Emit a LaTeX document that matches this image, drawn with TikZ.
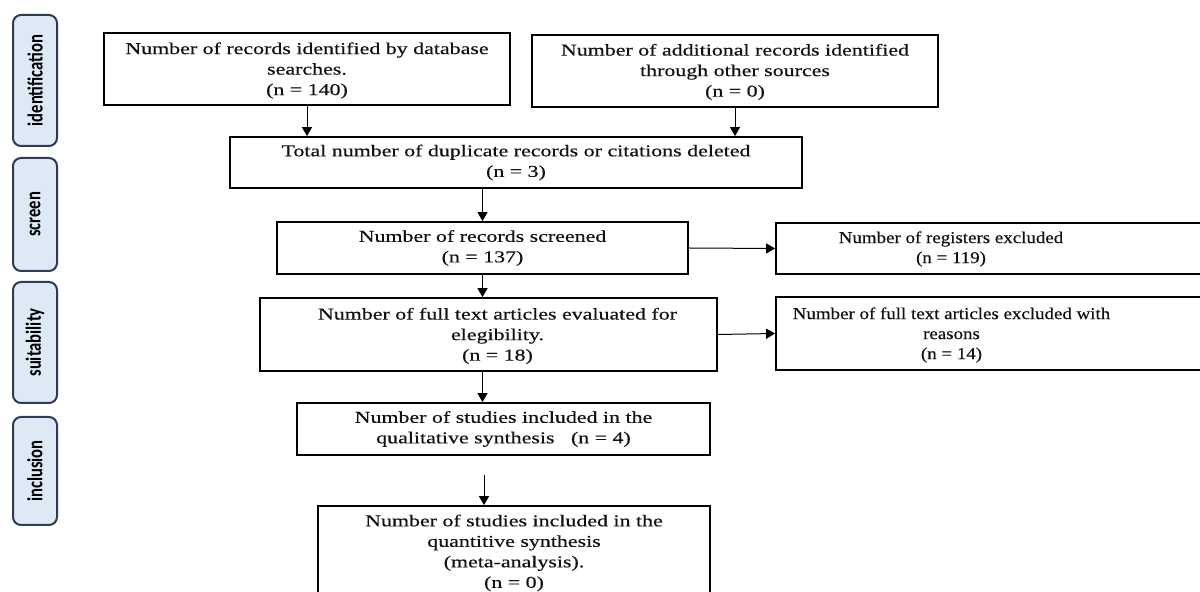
\documentclass[tikz,border=0pt]{standalone}
\usepackage{fontspec}
\usepackage{graphicx}
\setmainfont{Liberation Serif}[FakeStretch=1.32,FakeBold=0.4]
\newfontfamily\narrowserif{Liberation Serif}[FakeStretch=1.14,FakeBold=0.4]
\newfontfamily\tabfont{Carlito}
\usetikzlibrary{arrows.meta}
\definecolor{tabfill}{HTML}{DDEAF6}
\definecolor{tabline}{HTML}{2F3B55}
\definecolor{txt}{HTML}{111111}
\tikzset{
  box/.style={draw=black, line width=0.9pt, inner sep=0pt, align=center, text=txt,
    font=\fontsize{8.3}{10.25}\selectfont},
  boxtext/.style={inner sep=0pt, align=center, text=txt, font=\fontsize{8.3}{10.25}\selectfont},
  sidetext/.style={inner sep=0pt, align=center, text=txt, font=\narrowserif\fontsize{8.3}{10}\selectfont},
  tab/.style={draw=tabline, fill=tabfill, line width=1pt, rounded corners=4pt, rotate=90,
    inner sep=0pt, text=black, font=\tabfont\bfseries\fontsize{8.3}{9}\selectfont},
  arr/.style={draw=black, line width=0.5pt, -{Triangle[length=4.5pt,width=5pt]}}
}
\begin{document}
\begin{tikzpicture}[x=0.5pt,y=-0.5pt]
\useasboundingbox (0,0) rectangle (1200,592);
\clip (0,0) rectangle (1200,592);
\fill[white] (0,0) rectangle (1200,592);
% phase tabs
\node[tab, minimum width=65.5pt, minimum height=22pt] (tid) at (35,80.5) {\scalebox{1}[1.3]{identification}};
\node[tab, minimum width=56.5pt, minimum height=22pt] (tsc) at (35,214.5) {\scalebox{1}[1.3]{screen}};
\node[tab, minimum width=60.5pt, minimum height=22pt] (tsu) at (35,342.5) {\scalebox{1}[1.3]{suitability}};
\node[tab, minimum width=54pt, minimum height=22pt] (tin) at (35,471) {\scalebox{1}[1.3]{inclusion}};
% boxes
\node[box, minimum width=203pt, minimum height=36pt] (b1) at (307,69) {};
\node[boxtext] (b1t) at (307,70.5) {Number of records identified by database\\searches.\\(n = 140)};
\node[box, minimum width=203pt, minimum height=36pt] (b2) at (735,71) {};
\node[boxtext] (b2t) at (735,72) {Number of additional records identified\\through other sources\\(n = 0)};
\node[box, minimum width=286pt, minimum height=25.5pt] (tot) at (516,162.5)
  {Total number of duplicate records or citations deleted\\(n = 3)};
\node[box, minimum width=205.5pt, minimum height=26pt] (scr) at (482.5,248)
  {Number of records screened\\(n = 137)};
\node[box, minimum width=217pt, minimum height=25.5pt] (ex1) at (993,248.5) {};
\node[sidetext] (ex1t) at (951,249) {Number of registers excluded\\(n = 119)};
\node[box, minimum width=228.5pt, minimum height=36.5pt] (ft) at (488.5,334.5) {};
\node[boxtext] (ftt) at (497.5,336) {Number of full text articles evaluated for\\elegibility.\\(n = 18)};
\node[box, minimum width=217pt, minimum height=36.5pt] (ex2) at (993,333.5) {};
\node[sidetext] (ex2t) at (951.5,335) {Number of full text articles excluded with\\reasons\\(n = 14)};
\node[box, minimum width=206.5pt, minimum height=26pt] (qual) at (503.5,429)
  {Number of studies included in the\\qualitative synthesis \ \ (n = 4)};
\node[box, minimum width=196pt, minimum height=47pt] (quant) at (514,553)
  {Number of studies included in the\\quantitive synthesis\\(meta-analysis).\\(n = 0)};
% connectors
\draw[arr] (b1.south) -- (b1.south |- tot.north);
\draw[arr] (b2.south) -- (b2.south |- tot.north);
\draw[arr] (scr.north |- tot.south) -- (scr.north);
\draw[arr] (scr.south) -- (scr.south |- ft.north);
\draw[arr] (scr.east) -- (ex1.west);
\draw[arr] (ft.east) -- (ex2.west);
\draw[arr] (scr.south |- ft.south) -- (scr.south |- qual.north);
\coordinate (qs) at (484,475);
\draw[arr] (qs) -- (qs |- quant.north);
\end{tikzpicture}
\end{document}
